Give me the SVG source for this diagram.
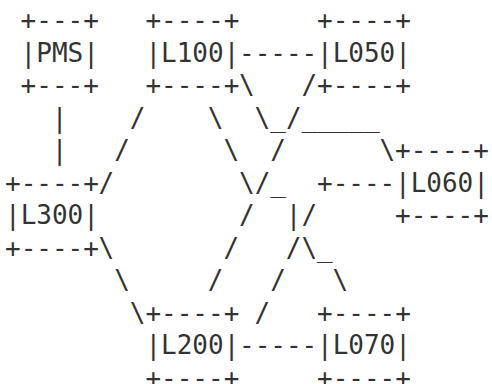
<svg xmlns="http://www.w3.org/2000/svg" width="492" height="384" viewBox="0 0 492 384">
<style>
text{font-family:"DejaVu Sans Mono","Liberation Mono",monospace;font-size:26px;fill:#333;white-space:pre}
</style>
<rect width="492" height="384" fill="#fff"/>
<g id="PMS">
<text x="20.6" y="29">+---+</text>
<text x="20.6" y="61.5">|PMS|</text>
<text x="20.6" y="94">+---+</text>
</g>
<g id="L100">
<text x="145.4" y="29">+----+</text>
<text x="145.4" y="61.5">|L100|</text>
<text x="145.4" y="94">+----+</text>
</g>
<g id="L050">
<text x="317" y="29">+----+</text>
<text x="317" y="61.5">|L050|</text>
<text x="317" y="94">+----+</text>
</g>
<g id="L300">
<text x="5" y="191.5">+----+</text>
<text x="5" y="224">|L300|</text>
<text x="5" y="256.5">+----+</text>
</g>
<g id="L060">
<text x="395" y="159">+----+</text>
<text x="395" y="191.5">|L060|</text>
<text x="395" y="224">+----+</text>
</g>
<g id="L200">
<text x="145.4" y="321.5">+----+</text>
<text x="145.4" y="354">|L200|</text>
<text x="145.4" y="386.5">+----+</text>
</g>
<g id="L070">
<text x="317" y="321.5">+----+</text>
<text x="317" y="354">|L070|</text>
<text x="317" y="386.5">+----+</text>
</g>
<g id="connectors">
<text x="239" y="61.5">-----</text>
<text x="239" y="94">\</text>
<text x="301.4" y="94">/</text>
<text x="51.8" y="126.5">|</text>
<text x="129.8" y="126.5">/</text>
<text x="207.8" y="126.5">\</text>
<text x="254.6" y="126.5">\_/_____</text>
<text x="51.8" y="159">|</text>
<text x="114.2" y="159">/</text>
<text x="223.4" y="159">\</text>
<text x="270.2" y="159">/</text>
<text x="379.4" y="159">\</text>
<text x="98.6" y="191.5">/</text>
<text x="239" y="191.5">\/_</text>
<text x="317" y="191.5">+----</text>
<text x="239" y="224">/</text>
<text x="285.8" y="224">|/</text>
<text x="98.6" y="256.5">\</text>
<text x="223.4" y="256.5">/</text>
<text x="285.8" y="256.5">/\_</text>
<text x="114.2" y="289">\</text>
<text x="207.8" y="289">/</text>
<text x="270.2" y="289">/</text>
<text x="332.6" y="289">\</text>
<text x="129.8" y="321.5">\</text>
<text x="254.6" y="321.5">/</text>
<text x="239" y="354">-----</text>
</g>
</svg>
